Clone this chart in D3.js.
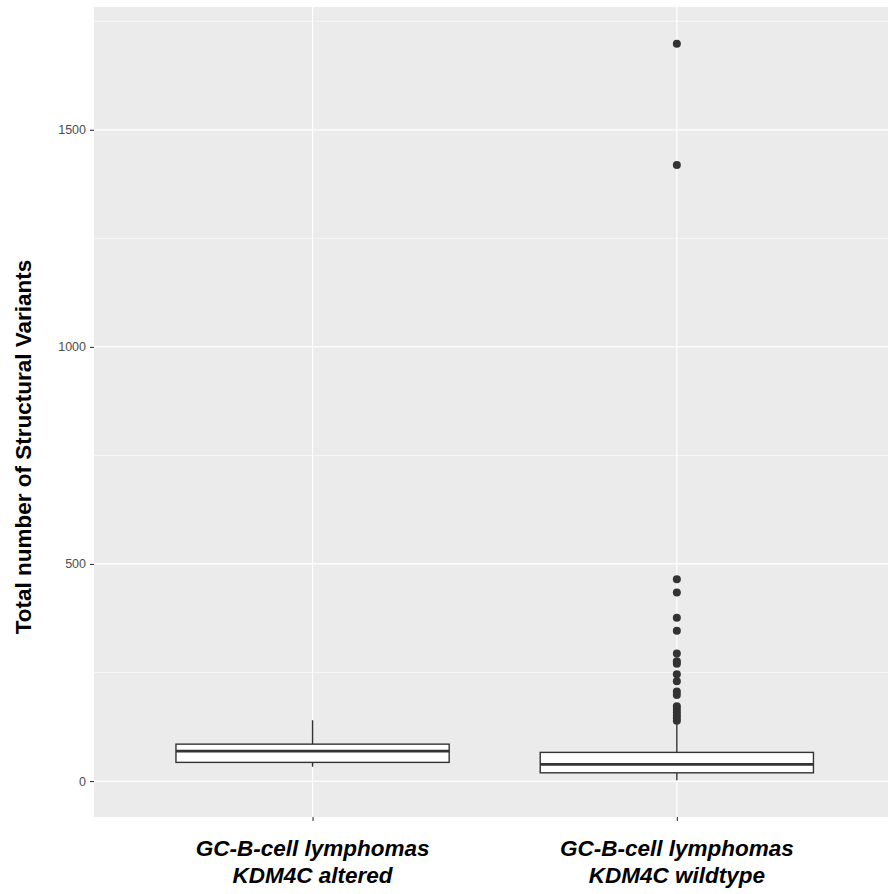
<!DOCTYPE html>
<html>
<head>
<meta charset="utf-8">
<script src="https://cdn.jsdelivr.net/npm/d3@7"></script>
<style>
  html, body { margin: 0; padding: 0; background: #ffffff; }
  svg { display: block; }
  text { font-family: "Liberation Sans", Arial, Helvetica, sans-serif; }
</style>
</head>
<body>
<svg id="chart" width="888" height="894"></svg>
<script>
// ---- data ----
const categories = ["GC-B-cell lymphomas\nKDM4C altered", "GC-B-cell lymphomas\nKDM4C wildtype"];
const whiskerLow  = [33, 2];
const q1          = [43, 19];
const medians     = [69, 38.5];
const q3          = [85, 66];
const whiskerHigh = [140, 133];
const outliersAltered  = [];
const outliersWildtype = [1698, 1419, 465, 434, 376, 346, 294, 276, 270, 246, 230, 206, 198, 172, 165, 158, 151, 145, 139];
const outliers = [outliersAltered, outliersWildtype];
const yTicks = [0, 500, 1000, 1500];
const yMinorTicks = [250, 750, 1250, 1750];
const yTitle = "Total number of Structural Variants";

// ---- layout ----
const svg = d3.select("#chart");
const panel = { left: 94, top: 7, right: 895.4, bottom: 817 };

const allVals = whiskerLow.concat(whiskerHigh, outliersAltered, outliersWildtype);
const lo = d3.min(allVals), hi = d3.max(allVals);
const pad = (hi - lo) * 0.05;

const y = d3.scaleLinear().domain([lo - pad, hi + pad]).range([panel.bottom, panel.top]);
const x = d3.scalePoint().domain(categories).range([panel.left, panel.right]).padding(0.6);
const boxW = x.step() * 0.75;

// panel background
svg.append("rect")
  .attr("x", panel.left).attr("y", panel.top)
  .attr("width", panel.right - panel.left).attr("height", panel.bottom - panel.top)
  .attr("fill", "#EBEBEB");

const grid = svg.append("g");
grid.selectAll("line.minor").data(yMinorTicks).join("line")
  .attr("class", "minor")
  .attr("x1", panel.left).attr("x2", panel.right)
  .attr("y1", d => y(d)).attr("y2", d => y(d))
  .attr("stroke", "#ffffff").attr("stroke-width", 0.6);
grid.selectAll("line.major").data(yTicks).join("line")
  .attr("class", "major")
  .attr("x1", panel.left).attr("x2", panel.right)
  .attr("y1", d => y(d)).attr("y2", d => y(d))
  .attr("stroke", "#ffffff").attr("stroke-width", 1.2);
grid.selectAll("line.vmajor").data(categories).join("line")
  .attr("class", "vmajor")
  .attr("x1", d => x(d)).attr("x2", d => x(d))
  .attr("y1", panel.top).attr("y2", panel.bottom)
  .attr("stroke", "#ffffff").attr("stroke-width", 1.2);

// boxes
const boxes = categories.map((c, i) => ({
  c, wl: whiskerLow[i], q1: q1[i], med: medians[i], q3: q3[i], wh: whiskerHigh[i], out: outliers[i]
}));
const bg = svg.append("g");
const stroke = "#333333";
boxes.forEach(b => {
  const cx = x(b.c);
  bg.append("line").attr("x1", cx).attr("x2", cx).attr("y1", y(b.q3)).attr("y2", y(b.wh))
    .attr("stroke", stroke).attr("stroke-width", 1.4);
  bg.append("line").attr("x1", cx).attr("x2", cx).attr("y1", y(b.q1)).attr("y2", y(b.wl))
    .attr("stroke", stroke).attr("stroke-width", 1.4);
  bg.append("rect")
    .attr("x", cx - boxW / 2).attr("width", boxW)
    .attr("y", y(b.q3)).attr("height", y(b.q1) - y(b.q3))
    .attr("fill", "#ffffff").attr("stroke", stroke).attr("stroke-width", 1.4);
  bg.append("line").attr("x1", cx - boxW / 2).attr("x2", cx + boxW / 2)
    .attr("y1", y(b.med)).attr("y2", y(b.med))
    .attr("stroke", stroke).attr("stroke-width", 2.8);
  bg.selectAll(null).data(b.out).join("circle")
    .attr("cx", cx).attr("cy", d => y(d)).attr("r", 4)
    .attr("fill", stroke);
});

// y axis
const yAxis = d3.axisLeft(y).tickValues(yTicks).tickFormat(d3.format("d")).tickSize(4).tickPadding(4);
const ya = svg.append("g").attr("transform", `translate(${panel.left},0)`).call(yAxis);
ya.select(".domain").remove();
ya.selectAll(".tick line").attr("stroke", "#333333").attr("stroke-width", 1.1);
ya.selectAll(".tick text").attr("fill", "#4D4D4D").style("font-size", "12.5px")
  .style("font-family", "'Liberation Sans', Arial, sans-serif");

// x axis
const xAxis = d3.axisBottom(x).tickSize(4).tickFormat("");
const xa = svg.append("g").attr("transform", `translate(0,${panel.bottom})`).call(xAxis);
xa.select(".domain").remove();
xa.selectAll(".tick line").attr("stroke", "#333333").attr("stroke-width", 1.1);

const xl = svg.append("g");
categories.forEach(c => {
  const lines = c.split("\n");
  const t = xl.append("text")
    .attr("x", x(c)).attr("y", 856)
    .attr("text-anchor", "middle")
    .attr("fill", "#000000")
    .style("font-size", "22.5px").style("font-weight", "bold").style("font-style", "italic");
  lines.forEach((ln, i) => {
    t.append("tspan").attr("x", x(c)).attr("dy", i === 0 ? 0 : 27).text(ln);
  });
});

// y title
svg.append("text")
  .attr("transform", `translate(31,${447}) rotate(-90)`)
  .attr("text-anchor", "middle")
  .attr("fill", "#000000")
  .style("font-size", "22.5px").style("font-weight", "bold")
  .text(yTitle);
</script>
</body>
</html>
